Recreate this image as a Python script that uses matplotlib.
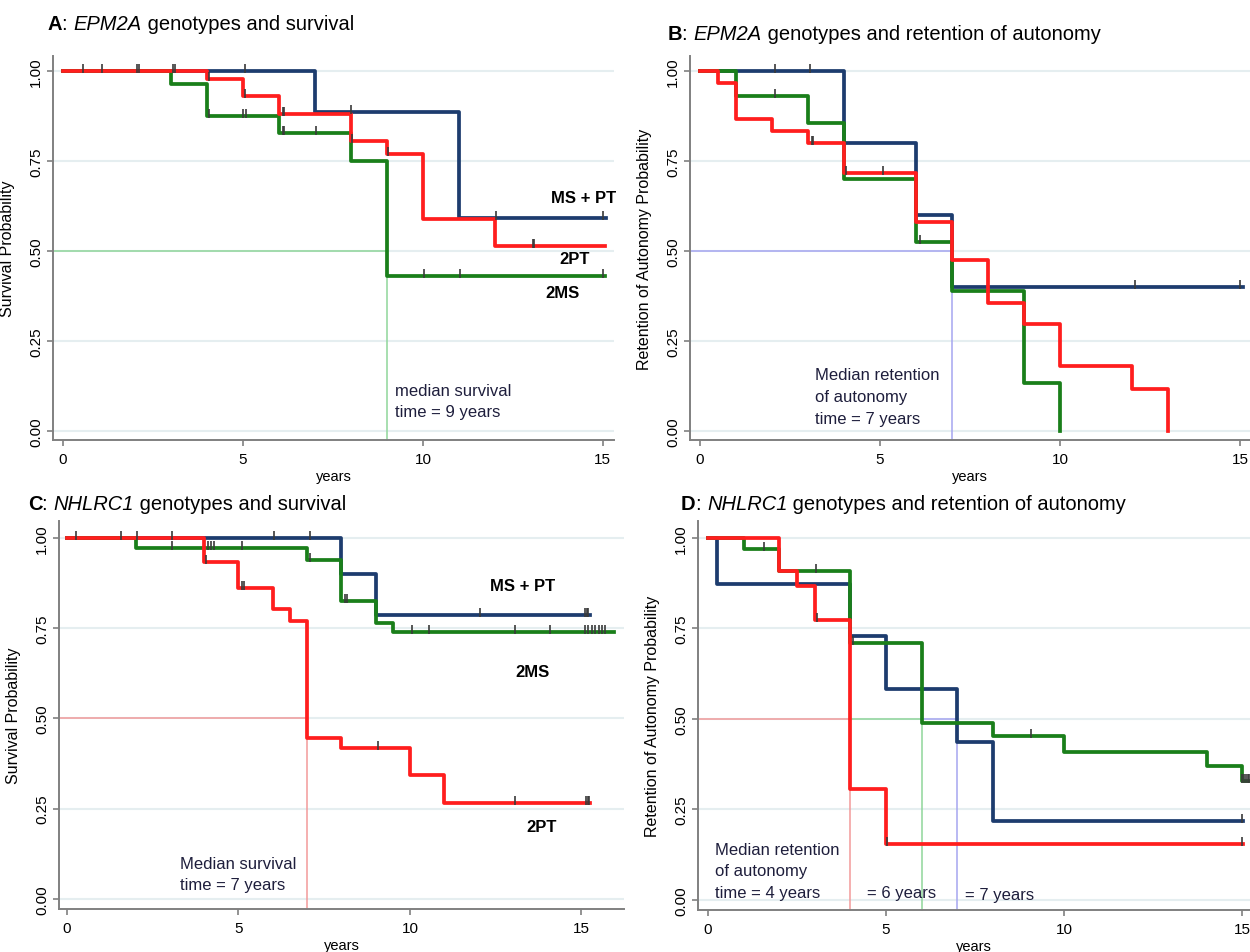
import numpy as np
import matplotlib
matplotlib.use("Agg")
from matplotlib import pyplot as plt

plt.rcParams['font.family'] = ['Liberation Sans', 'DejaVu Sans']

W, H = 1250, 953

BLUE = '#1d3c6e'
GREEN = '#1a7f1a'
RED = '#ff1e1e'
TXT = '#1e1e3c'

# ---------- A: EPM2A genotypes and survival
a_blue_t = [0, 7, 11, 15.08]
a_blue_s = [1.0, 0.886, 0.593, 0.593]
a_green_t = [0, 3, 4, 6, 8, 9, 15.05]
a_green_s = [1.0, 0.965, 0.875, 0.828, 0.75, 0.431, 0.431]
a_red_t = [0, 4, 5, 6, 8, 9, 10, 12, 15.05]
a_red_s = [1.0, 0.979, 0.93, 0.882, 0.807, 0.769, 0.588, 0.513, 0.513]
a_blue_cens = [5.06, 8.0, 12.03, 15.0]
a_green_cens = [4.05, 5.0, 5.08, 6.1, 6.15, 7.03, 10.03, 11.03, 15.0]
a_red_cens = [0.55, 1.08, 2.05, 2.1, 3.05, 3.1, 4.05, 5.06, 6.1, 6.15, 8.03, 9.03, 13.05, 13.1]
a_median = 9

# ---------- B: EPM2A genotypes and retention of autonomy
b_blue_t = [0, 4, 6, 7, 15.08]
b_blue_s = [1.0, 0.80, 0.60, 0.40, 0.40]
b_green_t = [0, 1, 3, 4, 6, 7, 9, 10, 10]
b_green_s = [1.0, 0.932, 0.856, 0.70, 0.524, 0.39, 0.133, 0.0, 0.0]
b_red_t = [0, 0.5, 1, 2, 3, 4, 6, 7, 8, 9, 10, 12, 13, 13]
b_red_s = [1.0, 0.968, 0.868, 0.833, 0.80, 0.716, 0.58, 0.476, 0.356, 0.297, 0.18, 0.118, 0.0, 0.0]
b_blue_cens = [2.08, 3.06, 12.08, 15.0]
b_green_cens = [2.08, 6.1]
b_red_cens = [3.1, 3.15, 4.05, 5.08]
b_median = 7

# ---------- C: NHLRC1 genotypes and survival
c_blue_t = [0, 8, 9, 15.25]
c_blue_s = [1.0, 0.90, 0.787, 0.787]
c_green_t = [0, 2, 7, 8, 9, 9.5, 15.95]
c_green_s = [1.0, 0.971, 0.939, 0.825, 0.764, 0.739, 0.739]
c_red_t = [0, 4, 5, 6, 6.5, 7, 8, 10, 11, 15.25]
c_red_s = [1.0, 0.934, 0.861, 0.803, 0.771, 0.446, 0.417, 0.342, 0.266, 0.266]
c_blue_cens = [6.04, 7.08, 12.04, 15.1, 15.15, 15.2]
c_green_cens = [3.06, 4.1, 4.2, 4.3, 5.1, 7.08, 8.1, 8.15, 10.06, 10.55, 13.05, 14.08,
                15.1, 15.2, 15.3, 15.4, 15.5, 15.6, 15.7]
c_red_cens = [0.26, 1.58, 2.05, 3.06, 4.05, 5.1, 5.15, 9.07, 13.05, 15.13, 15.18, 15.22]
c_median = 7

# ---------- D: NHLRC1 genotypes and retention of autonomy
d_blue_t = [0, 0.25, 4, 5, 7, 8, 15.03]
d_blue_s = [1.0, 0.874, 0.729, 0.584, 0.437, 0.217, 0.217]
d_green_t = [0, 1, 2, 4, 6, 8, 10, 14, 15, 15.3]
d_green_s = [1.0, 0.971, 0.908, 0.711, 0.489, 0.452, 0.409, 0.369, 0.328, 0.328]
d_red_t = [0, 2, 2.5, 3, 4, 5, 15.03]
d_red_s = [1.0, 0.909, 0.866, 0.774, 0.307, 0.154, 0.154]
d_blue_cens = [15.0]
d_green_cens = [1.57, 3.04, 4.06, 9.06, 15.0, 15.05, 15.1, 15.15, 15.2]
d_red_cens = [3.05, 5.03, 15.0]
d_medians = [4, 6, 7]

xticks = [0, 5, 10, 15]
yticks = [0.0, 0.25, 0.5, 0.75, 1.0]

fig = plt.figure(figsize=(12.5, 9.53), dpi=100)


def px_axes(l, t, r, b):
    return fig.add_axes([l / W, 1 - b / H, (r - l) / W, (b - t) / H])


def setup(ax, xlim, ylim, ylabel):
    ax.set_xlim(*xlim)
    ax.set_ylim(*ylim)
    for s in ['top', 'right']:
        ax.spines[s].set_visible(False)
    for s in ['left', 'bottom']:
        ax.spines[s].set_color('#808080')
        ax.spines[s].set_linewidth(1.4)
    ax.set_xticks(xticks)
    ax.set_yticks(yticks)
    ax.set_yticklabels(['%.2f' % v for v in yticks], rotation=90, va='center')
    ax.tick_params(colors='#808080', labelcolor='black', labelsize=11,
                   length=4, width=1.2, direction='out')
    ax.tick_params(axis='y', pad=3)
    ax.tick_params(axis='x', pad=5)
    for v in yticks:
        ax.axhline(v, color='#e5eef0', lw=1.5, zorder=0)
    ax.set_ylabel(ylabel, fontsize=11.5)
    ax.yaxis.set_label_coords(-0.068, 0.5)
    ax.set_xlabel('years', fontsize=10.5)
    ax.xaxis.set_label_coords(0.5, -0.075)


cens_marker = [(0, -0.3), (0, 1.0)]


def km(ax, t, s, cens, color):
    ax.step(t, s, where='post', color=color, lw=2.7, zorder=3)
    t = np.array(t)
    s = np.array(s)
    idx = np.searchsorted(t, cens, side='right') - 1
    ax.plot(cens, s[idx], ls='none', marker=cens_marker, ms=10, mew=1.2,
            color='#3a3a3a', zorder=4)


def median_line(ax, x0, x1, color):
    ylo = ax.get_ylim()[0]
    ax.plot([x0, x1], [0.5, 0.5], color=color, lw=1.1, zorder=1)
    ax.plot([x1, x1], [0.5, ylo], color=color, lw=1.1, zorder=1, clip_on=False)


def note(ax, x, y, s):
    ax.text(x, y, s, fontsize=12, color=TXT, ha='left', va='center', linespacing=1.55)


def title(x, y, parts, size=14.5):
    fig.canvas.draw()
    r = fig.canvas.get_renderer()
    for txt, weight, style in parts:
        t = fig.text(x / W, 1 - y / H, txt, fontsize=size, fontweight=weight,
                     fontstyle=style, ha='left', va='center')
        x += t.get_window_extent(r).width


# A
axA = px_axes(53, 57, 614, 441)
setup(axA, (-0.278, 15.31), (-0.025, 1.042), 'Survival Probability')
median_line(axA, -0.278, a_median, '#8fd69a')
km(axA, a_blue_t, a_blue_s, a_blue_cens, BLUE)
km(axA, a_green_t, a_green_s, a_green_cens, GREEN)
km(axA, a_red_t, a_red_s, a_red_cens, RED)
axA.text(14.47, 0.65, 'MS + PT', fontsize=12, fontweight='bold', ha='center', va='center')
axA.text(14.22, 0.478, '2PT', fontsize=12, fontweight='bold', ha='center', va='center')
axA.text(13.89, 0.386, '2MS', fontsize=12, fontweight='bold', ha='center', va='center')
note(axA, 9.22, 0.083, 'median survival\ntime = 9 years')

# B
axB = px_axes(690, 57, 1250, 441)
setup(axB, (-0.278, 15.28), (-0.025, 1.042), 'Retention of Autonomy Probability')
median_line(axB, -0.278, b_median, '#a6a6f0')
km(axB, b_blue_t, b_blue_s, b_blue_cens, BLUE)
km(axB, b_green_t, b_green_s, b_green_cens, GREEN)
km(axB, b_red_t, b_red_s, b_red_cens, RED)
note(axB, 3.19, 0.096, 'Median retention\nof autonomy\ntime = 7 years')

# C
axC = px_axes(59, 522, 624, 910)
setup(axC, (-0.233, 16.24), (-0.028, 1.047), 'Survival Probability')
median_line(axC, -0.233, c_median, '#f29a9a')
km(axC, c_blue_t, c_blue_s, c_blue_cens, BLUE)
km(axC, c_green_t, c_green_s, c_green_cens, GREEN)
km(axC, c_red_t, c_red_s, c_red_cens, RED)
axC.text(13.27, 0.868, 'MS + PT', fontsize=12, fontweight='bold', ha='center', va='center')
axC.text(13.56, 0.629, '2MS', fontsize=12, fontweight='bold', ha='center', va='center')
axC.text(13.85, 0.2, '2PT', fontsize=12, fontweight='bold', ha='center', va='center')
note(axC, 3.29, 0.069, 'Median survival\ntime = 7 years')

# D
axD = px_axes(698, 522, 1250, 911)
setup(axD, (-0.28, 15.22), (-0.028, 1.047), 'Retention of Autonomy Probability')
median_line(axD, -0.28, d_medians[0], '#f29a9a')
median_line(axD, d_medians[0], d_medians[1], '#8fd69a')
median_line(axD, d_medians[1], d_medians[2], '#a6a6f0')
km(axD, d_blue_t, d_blue_s, d_blue_cens, BLUE)
km(axD, d_green_t, d_green_s, d_green_cens, GREEN)
km(axD, d_red_t, d_red_s, d_red_cens, RED)
note(axD, 0.2, 0.080, 'Median retention\nof autonomy\ntime = 4 years')
note(axD, 4.47, 0.019, '= 6 years')
note(axD, 7.22, 0.014, '= 7 years')

title(48, 24, [('A', 'bold', 'normal'), (': ', 'normal', 'normal'),
               ('EPM2A', 'normal', 'italic'), (' genotypes and survival', 'normal', 'normal')])
title(668, 34, [('B', 'bold', 'normal'), (': ', 'normal', 'normal'),
                ('EPM2A', 'normal', 'italic'),
                (' genotypes and retention of autonomy', 'normal', 'normal')])
title(28, 505, [('C', 'bold', 'normal'), (': ', 'normal', 'normal'),
                ('NHLRC1', 'normal', 'italic'), (' genotypes and survival', 'normal', 'normal')])
title(681, 505, [('D', 'bold', 'normal'), (': ', 'normal', 'normal'),
                 ('NHLRC1', 'normal', 'italic'),
                 (' genotypes and retention of autonomy', 'normal', 'normal')])

fig.savefig('out.png', dpi=100)
